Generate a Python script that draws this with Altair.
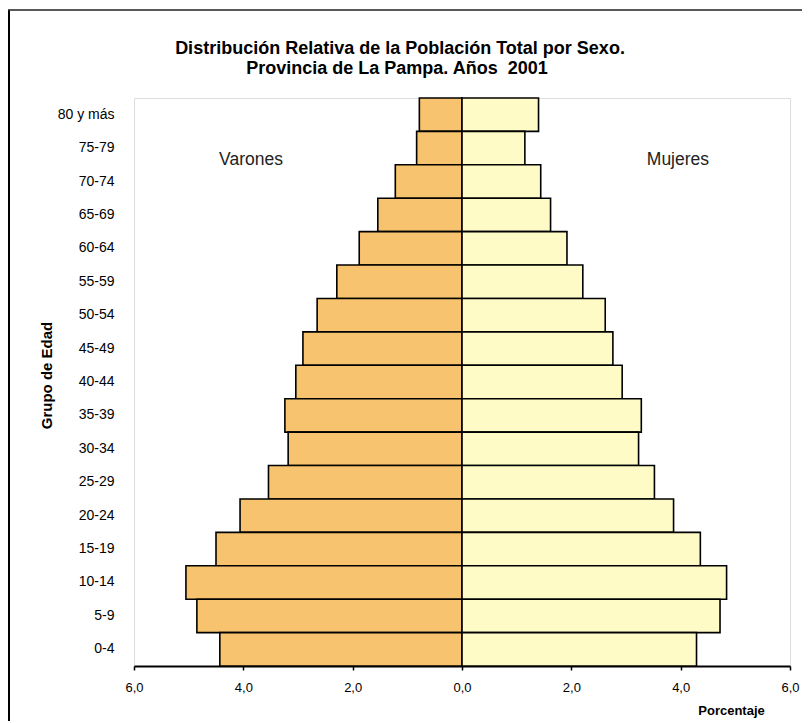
import altair as alt
import pandas as pd

grupos = ["80 y más", "75-79", "70-74", "65-69", "60-64", "55-59", "50-54", "45-49",
          "40-44", "35-39", "30-34", "25-29", "20-24", "15-19", "10-14", "5-9", "0-4"]
varones = [0.78, 0.83, 1.22, 1.54, 1.88, 2.29, 2.65, 2.91, 3.04, 3.24, 3.18, 3.54,
           4.06, 4.50, 5.05, 4.85, 4.43]
mujeres = [1.40, 1.15, 1.44, 1.62, 1.92, 2.21, 2.62, 2.76, 2.93, 3.28, 3.23, 3.52,
           3.87, 4.36, 4.84, 4.72, 4.29]
ticks = [-6, -4, -2, 0, 2, 4, 6]
rotulos = ["Varones", "Mujeres"]
rotulos_x = [-3.86, 3.95]
titulo = ["Distribución Relativa de la Población Total por Sexo.",
          "Provincia de La Pampa. Años\u00a0 2001"]

rows = []
for g, v, m in zip(grupos, varones, mujeres):
    rows.append({"grupo": g, "sexo": "Varones", "valor": -v})
    rows.append({"grupo": g, "sexo": "Mujeres", "valor": m})
df = pd.DataFrame(rows)
df_rot = pd.DataFrame({"texto": rotulos, "x": rotulos_x})
df_one = pd.DataFrame({"k": [0]})

FONT = "Liberation Sans"

x_scale = alt.Scale(domain=[-6, 6], nice=False, zero=False)
y_scale = alt.Scale(domain=grupos, paddingInner=0, paddingOuter=0)

bars = alt.Chart(df).mark_bar(stroke="black", strokeWidth=1.6).encode(
    x=alt.X("valor:Q", scale=x_scale, stack=None,
            axis=alt.Axis(values=ticks,
                          labelExpr="replace(format(abs(datum.value), '.1f'), '.', ',')",
                          title="Porcentaje", grid=False, domainColor="black",
                          domainWidth=2, tickColor="black", tickSize=4, tickWidth=1.5,
                          labelFontSize=13, labelPadding=11, labelFont=FONT,
                          labelColor="black", labelFlush=False,
                          titleFont=FONT, titleFontSize=13,
                          titleFontWeight="bold", titleColor="black",
                          titleX=597, titleY=44, titleAlign="center",
                          titleBaseline="middle")),
    y=alt.Y("grupo:N", scale=y_scale, sort=grupos,
            axis=alt.Axis(title="Grupo de Edad", ticks=False, domain=False, grid=False,
                          labelPadding=20, labelFont=FONT, labelFontSize=14,
                          labelColor="black", titleFont=FONT, titleFontSize=15,
                          titleFontWeight="bold", titleColor="black",
                          titleX=-88, titleY=277, titleAngle=-90,
                          titleAlign="center", titleBaseline="middle")),
    color=alt.Color("sexo:N",
                    scale=alt.Scale(domain=["Varones", "Mujeres"],
                                    range=["#F7C36E", "#FFFBC6"]),
                    legend=None),
)

labels = alt.Chart(df_rot).mark_text(font=FONT, fontSize=17.5, color="#222222",
                                     baseline="middle").encode(
    x=alt.X("x:Q", scale=x_scale),
    y=alt.value(62),
    text="texto:N",
)

title1 = alt.Chart(df_one).mark_text(font=FONT, fontSize=18, fontWeight="bold",
                                     color="black", baseline="middle").encode(
    x=alt.value(266), y=alt.value(-49), text=alt.value(titulo[0]))
title2 = alt.Chart(df_one).mark_text(font=FONT, fontSize=18, fontWeight="bold",
                                     color="black", baseline="middle").encode(
    x=alt.value(263), y=alt.value(-29), text=alt.value(titulo[1]))

left_frame = alt.Chart(df_one).mark_rule(color="black", strokeWidth=2, clip=False).encode(
    x=alt.value(-125), y=alt.value(-88), y2=alt.value(700))
top_frame = alt.Chart(df_one).mark_rule(color="#222222", strokeWidth=1.5, clip=False).encode(
    x=alt.value(-126), x2=alt.value(700), y=alt.value(-88))

chart = alt.layer(left_frame, top_frame, bars, labels, title1, title2).properties(
    width=656, height=568,
    autosize=alt.AutoSizeParams(type="none"),
    padding={"left": 126, "top": 90, "right": 12, "bottom": 55},
).configure_view(stroke="#808080", strokeWidth=2.5).configure(background="white")

chart.save("out.html", embed_options={"renderer": "svg", "actions": False})
